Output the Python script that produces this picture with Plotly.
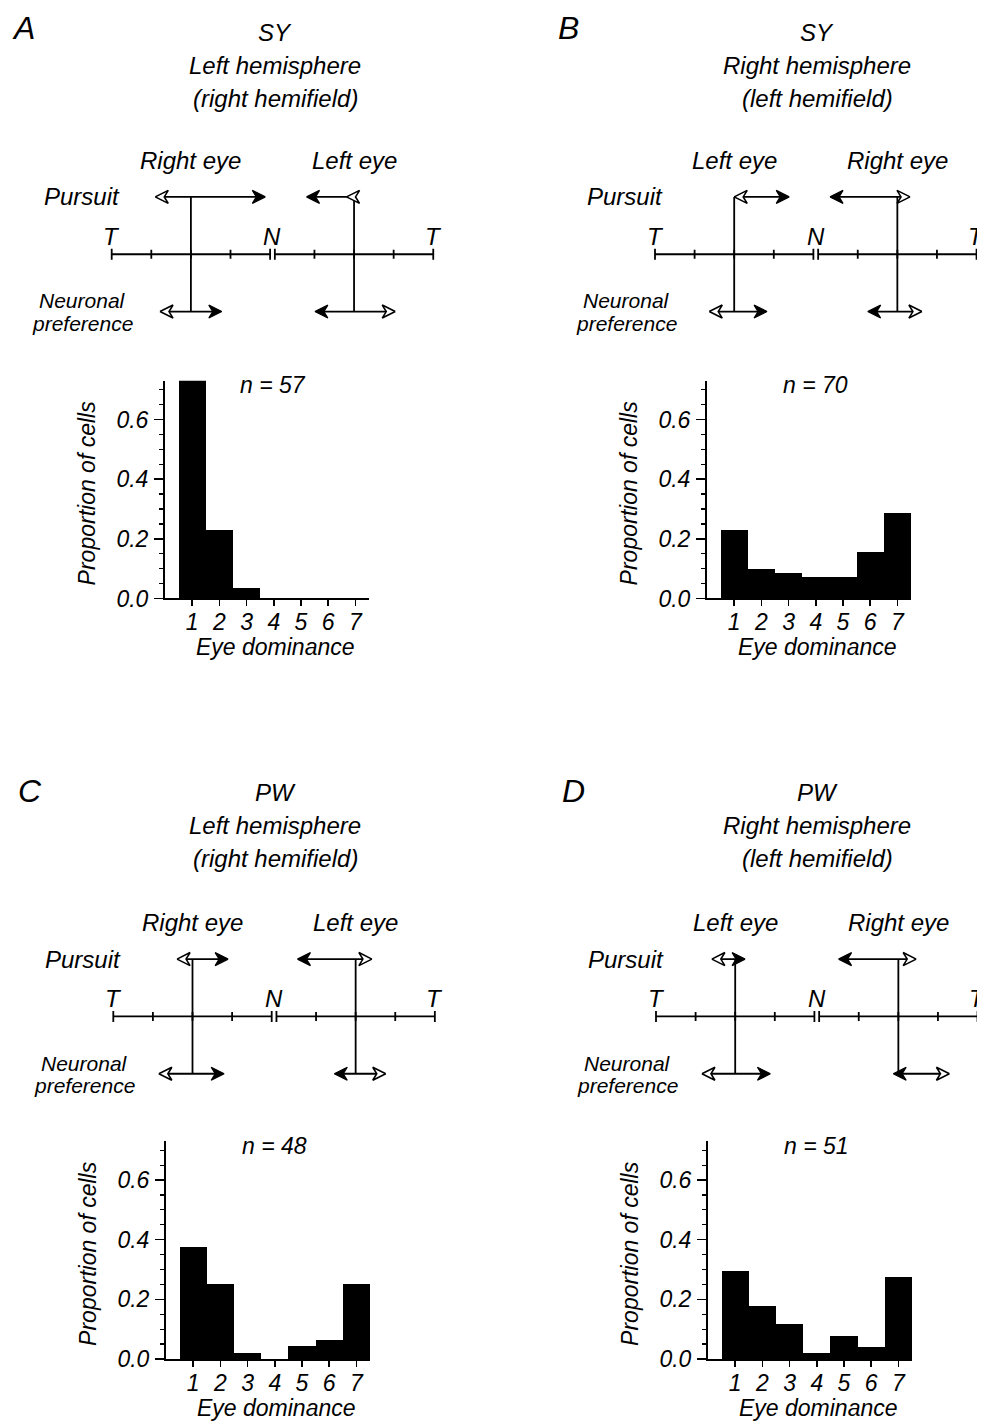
import plotly.graph_objects as go

# The page is photographed with a small vertical squeeze (K) and the html body
# keeps its default 8px margin; screen targets are converted to figure pixels.
OFF = 8
K = 1427.0 / 1441.0
FW, FH = 985 - OFF, 1441 - OFF

# ---------------- data ----------------
eye_dominance = [1, 2, 3, 4, 5, 6, 7]
prop_A = [0.737, 0.228, 0.035, 0.0, 0.0, 0.0, 0.0]
prop_B = [0.229, 0.100, 0.086, 0.071, 0.071, 0.157, 0.286]
prop_C = [0.375, 0.250, 0.021, 0.0, 0.042, 0.063, 0.250]
prop_D = [0.294, 0.176, 0.118, 0.020, 0.078, 0.039, 0.275]
n_cells = [57, 70, 48, 51]

panel_letters = ["A", "B", "C", "D"]
monkeys = ["SY", "SY", "PW", "PW"]
hemispheres = ["Left hemisphere", "Right hemisphere", "Left hemisphere", "Right hemisphere"]
hemifields = ["(right hemifield)", "(left hemifield)", "(right hemifield)", "(left hemifield)"]
eye_left_half = ["Right eye", "Left eye", "Right eye", "Left eye"]
eye_right_half = ["Left eye", "Right eye", "Left eye", "Right eye"]

y_ticks = [0.0, 0.2, 0.4, 0.6]
y_tick_labels = ["0.0", "0.2", "0.4", "0.6"]

# arrow tips (left, right), offsets from each eye's vertical line, in diagram tick units
pursuit_lhalf = [(-0.90, 1.88), (0.0, 1.39), (-0.39, 0.90), (-0.59, 0.25)]
pursuit_rhalf = [(-1.20, -0.19), (-1.70, 0.32), (-1.47, 0.41), (-1.51, 0.45)]
neuronal_lhalf = [(-0.78, 0.78), (-0.63, 0.83), (-0.85, 0.80), (-0.84, 0.89)]
neuronal_rhalf = [(-0.99, 1.04), (-0.75, 0.62), (-0.54, 0.76), (-0.13, 1.29)]

props = [prop_A, prop_B, prop_C, prop_D]

# ---------------- layout geometry (screen pixels) ----------------
hist_origin = [(165, 598), (707, 598), (166, 1358), (708, 1358)]
diag_origin = [(111.7, 254), (655, 254), (113.3, 1015.7), (656, 1015.7)]
title_cx = [275, 817, 275, 817]
title_y0 = [32, 32, 792, 792]
letter_pos = [(23, 28), (568, 28), (30, 790), (573, 790)]

HX, HY = 27.2, 298.0          # px per unit for histograms
XR, YR = [0, 7.5], [0, 0.73]
DX, DY = 39.6, 57.3           # px per unit for diagrams
NGAP = 0.12                   # gap between the two N ticks
DXR = [-1.7, 8 + NGAP + 0.15]
DYR = [-1.35, 1.35]
LCOL = 2.0                    # left eye-axis centre
RCOL = 4.0 + NGAP + 2.0       # right eye-axis centre

FONT = "Liberation Sans, Arial, Helvetica, sans-serif"
FS_H = 23      # histogram texts
FS_D = 24      # titles and diagram texts


def px2x(sx):
    return min(1.0, max(0.0, (sx - OFF) / FW))


def px2y(sy):
    return min(1.0, max(0.0, 1 - (sy / K - OFF) / FH))


def fnt(size):
    return dict(family=FONT, size=size, color="black", style="italic")


fig = go.Figure()
annotations = []
axes = {}


def add_text(text, px, py, size, xanchor="center", angle=0):
    annotations.append(dict(text=text, x=px2x(px), y=px2y(py),
                            xref="paper", yref="paper",
                            showarrow=False, xanchor=xanchor, yanchor="middle",
                            font=fnt(size), textangle=angle))


def ax_names(k):
    s = "" if k == 1 else str(k)
    return "x" + s, "y" + s, "xaxis" + s, "yaxis" + s


HEAD_L, HEAD_W, NOTCH = 13.0, 6.5, 4.0


def head_poly(tip, yrow, d):
    # arrowhead with tip at (tip, yrow), pointing in direction d (+1 right / -1 left)
    pts = [(0, 0), (-HEAD_L, HEAD_W), (-HEAD_L + NOTCH, 0), (-HEAD_L, -HEAD_W), (0, 0)]
    xs = [tip + d * p[0] / DX for p in pts]
    ys = [yrow + p[1] / DY for p in pts]
    return xs, ys


for i in range(4):
    # ---------- histogram ----------
    k = 2 * i + 1
    xr, yr, xn, yn = ax_names(k)
    hx, hy = hist_origin[i]
    fig.add_trace(go.Bar(x=eye_dominance, y=props[i], width=1,
                         marker=dict(color="black", line=dict(width=0)),
                         xaxis=xr, yaxis=yr, cliponaxis=False,
                         showlegend=False, hoverinfo="skip"))
    axes[xn] = dict(domain=[px2x(hx), px2x(hx + XR[1] * HX)], range=XR, anchor=yr,
                    tickmode="array", tickvals=eye_dominance,
                    ticks="outside", ticklen=6, tickwidth=1.5, tickcolor="black",
                    showline=True, linewidth=2, linecolor="black",
                    showgrid=False, zeroline=False, tickfont=fnt(FS_H),
                    ticklabelstandoff=-4, fixedrange=True)
    axes[yn] = dict(domain=[px2y(hy), px2y(hy - YR[1] * HY)], range=YR, anchor=xr,
                    tickmode="array", tickvals=y_ticks, ticktext=y_tick_labels,
                    ticks="outside", ticklen=9, tickwidth=1.5, tickcolor="black",
                    minor=dict(tickmode="linear", tick0=0, dtick=0.05, ticks="outside",
                               ticklen=4, tickwidth=1.2, tickcolor="black", showgrid=False),
                    showline=True, linewidth=2, linecolor="black",
                    showgrid=False, zeroline=False, tickfont=fnt(FS_H),
                    ticklabelstandoff=1, fixedrange=True)
    add_text(f"n = {n_cells[i]}", hx + 108, hy - 213, FS_H)
    add_text("Eye dominance", hx + 110, hy + 49, FS_H)
    add_text("Proportion of cells", hx - 78, hy - 105, FS_H, angle=-90)

    # ---------- titles ----------
    add_text(monkeys[i], title_cx[i], title_y0[i], FS_D)
    add_text(hemispheres[i], title_cx[i], title_y0[i] + 33, FS_D)
    add_text(hemifields[i], title_cx[i], title_y0[i] + 66, FS_D)
    add_text(panel_letters[i], letter_pos[i][0], letter_pos[i][1], 32)

    # ---------- diagram ----------
    k = 2 * i + 2
    xr, yr, xn, yn = ax_names(k)
    dx0, dy0 = diag_origin[i]
    x_lo, x_hi = dx0 + DXR[0] * DX, dx0 + DXR[1] * DX
    x_hi = min(x_hi, OFF + FW)
    xrange_hi = (x_hi - dx0) / DX
    axes[xn] = dict(domain=[px2x(x_lo), px2x(x_hi)], range=[DXR[0], xrange_hi],
                    anchor=yr, visible=False, fixedrange=True)
    axes[yn] = dict(domain=[px2y(dy0 - DYR[0] * DY), px2y(dy0 - DYR[1] * DY)],
                    range=DYR, anchor=xr, visible=False, fixedrange=True)

    lx, ly = [], []
    # baseline (two hemi-retina segments)
    lx += [0, 4, None, 4 + NGAP, 8 + NGAP, None]
    ly += [0, 0, None, 0, 0, None]
    # ticks
    for t in [0, 1, 2, 3, 4, 4 + NGAP, 5 + NGAP, 6 + NGAP, 7 + NGAP, 8 + NGAP]:
        hlen = 5.5 if t in (0, 4, 4 + NGAP, 8 + NGAP) else 4.5
        lx += [t, t, None]
        ly += [hlen / DY, -hlen / DY, None]
    # verticals
    for c in (LCOL, RCOL):
        lx += [c, c, None]
        ly += [1, -1, None]

    fx, fy, ox, oy = [], [], [], []
    rows = [(1, pursuit_lhalf[i], pursuit_rhalf[i]), (-1, neuronal_lhalf[i], neuronal_rhalf[i])]
    for yrow, lh, rh in rows:
        for c, (lt, rt), lopen in ((LCOL, lh, True), (RCOL, rh, False)):
            dl = -1 if lt <= 0 else 1
            dr = 1 if rt >= 0 else -1
            lend = lt - dl * (HEAD_L - NOTCH) / DX
            rend = rt - dr * (HEAD_L - NOTCH) / DX
            a = min(lend, rend, 0)
            b = max(lend, rend, 0)
            lx += [c + a, c + b, None]
            ly += [yrow, yrow, None]
            hxs, hys = head_poly(c + lt, yrow, dl)
            if lopen:
                ox += hxs + [None]; oy += hys + [None]
            else:
                fx += hxs + [None]; fy += hys + [None]
            hxs, hys = head_poly(c + rt, yrow, dr)
            if lopen:
                fx += hxs + [None]; fy += hys + [None]
            else:
                ox += hxs + [None]; oy += hys + [None]

    fig.add_trace(go.Scatter(x=lx, y=ly, mode="lines", line=dict(color="black", width=1.8),
                             xaxis=xr, yaxis=yr, cliponaxis=False, showlegend=False,
                             hoverinfo="skip"))
    fig.add_trace(go.Scatter(x=fx, y=fy, mode="lines", fill="toself", fillcolor="black",
                             line=dict(color="black", width=1.2), xaxis=xr, yaxis=yr,
                             cliponaxis=False, showlegend=False, hoverinfo="skip"))
    fig.add_trace(go.Scatter(x=ox, y=oy, mode="lines", fill="toself", fillcolor="white",
                             line=dict(color="black", width=1.6), xaxis=xr, yaxis=yr,
                             cliponaxis=False, showlegend=False, hoverinfo="skip"))

    def dtext(text, x, y, ys=0, xanchor="center", size=FS_D):
        annotations.append(dict(text=text, x=x, y=y, xref=xr, yref=yr, showarrow=False,
                                xanchor=xanchor, yanchor="middle", yshift=ys / K,
                                font=fnt(size)))

    dtext("T", 0, 0, 18)
    dtext("N", 4 + NGAP / 2, 0, 18)
    dtext("T", 8 + NGAP, 0, 18)
    dtext(eye_left_half[i], LCOL, 1, 36)
    dtext(eye_right_half[i], RCOL, 1, 36)
    dtext("Pursuit", 0.25, 1, 0, xanchor="right")
    dtext("Neuronal", -0.73, -1, 10.5, size=21)
    dtext("preference", -0.73, -1, -12, size=21)

fig.update_layout(width=FW, height=FH, margin=dict(l=0, r=0, t=0, b=0),
                  paper_bgcolor="white", plot_bgcolor="white", showlegend=False,
                  bargap=0, hovermode=False, font=fnt(FS_H), annotations=annotations,
                  **axes)

fig.write_html("out.html", config={"displayModeBar": False, "staticPlot": True})
